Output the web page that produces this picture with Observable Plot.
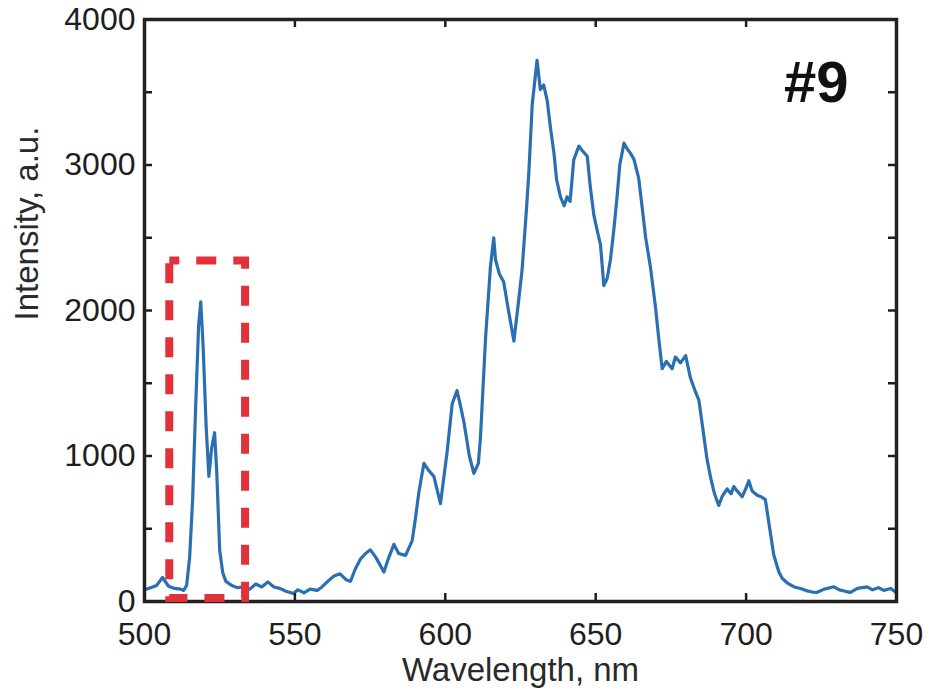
<!DOCTYPE html>
<html><head><meta charset="utf-8">
<script src="https://cdn.jsdelivr.net/npm/d3@7"></script>
<script src="https://cdn.jsdelivr.net/npm/@observablehq/plot@0.6"></script>
<style>body{margin:0;background:#fff}</style>
</head><body><div id="chart"></div>
<script>
const wavelength = [500,502,504,506,508,510,512,513,514,515,516,517,518,518.7,519.5,520.5,521.4,522.3,523.3,524,525,526,527,529,531,533,535,537,539,541,543,545,547,549.5,551,553,555,557.4,559,561,563,565,567,568.5,570,571.8,573.5,575.1,577,579.6,581,582.9,584.5,586.8,589,590,591.2,592.9,594.5,596.2,598.4,600.6,602.3,603.9,605,606.2,608,609.5,611,611.7,613.4,615,616.1,616.7,618,619.4,621,622.8,624,625.5,627,627.8,628.9,630.5,631.6,632.7,633.9,635,636.1,637,638.3,639.5,640.5,641.5,642.7,644.4,645.5,647.2,648.2,649.4,650.5,651.6,652.7,653.8,654.9,656,657.1,658,659.4,660.5,661.6,662.7,664.3,665.5,666.6,668.2,669.9,671,672.1,673.5,675.4,676.5,678.2,679.9,681.5,683,684.3,686,687,688.2,689.5,690.9,692,693.7,695,695.9,697,698.7,700,700.9,702,703.7,705,706.4,707.5,709.2,710.9,712,713.7,716,718.1,720,722,723.6,726,729.2,731,733,734.7,737,740.2,742,744,745.8,748,750];
const intensity = [80,95,110,165,105,90,85,76,110,300,700,1335,1900,2060,1750,1200,860,1050,1160,900,350,200,140,110,95,100,85,120,100,135,100,90,70,55,80,60,85,76,100,140,175,190,150,139,220,292,330,355,300,203,290,393,330,317,419,560,749,950,900,860,673,1028,1359,1450,1350,1232,1000,880,950,1130,1816,2300,2500,2349,2250,2197,2000,1790,2000,2273,2700,2959,3416,3720,3518,3550,3441,3250,3086,2900,2780,2720,2781,2750,3035,3130,3100,3060,2850,2654,2550,2451,2171,2220,2349,2550,2781,3000,3150,3110,3080,3040,2908,2700,2502,2298,2019,1800,1600,1650,1600,1680,1640,1690,1536,1450,1384,1130,980,851,740,660,720,774,740,790,760,720,780,830,760,730,720,700,550,320,203,160,127,100,89,75,65,63,85,101,80,70,63,90,101,80,95,76,90,60];
const xTicks = [500,550,600,650,700,750];
const yTicks = [0,500,1000,1500,2000,2500,3000,3500,4000];
const yLabels = [0,1000,2000,3000,4000];
const boxWavelength = [508.4, 533.6];
const boxIntensity = [20, 2340];
const panelLabel = ["#9"];
const xTitle = ["Wavelength, nm"];
const yTitle = ["Intensity, a.u."];

const data = wavelength.map((w, i) => ({w, v: intensity[i]}));
const box = [{x1: boxWavelength[0], x2: boxWavelength[1], y1: boxIntensity[0], y2: boxIntensity[1]}];
const W = 927, H = 693, mL = 144, mR = 31, mT = 19, mB = 92;
const fw = W - mL - mR, fh = H - mT - mB, tk = 8;
const ink = "#1e1e1e";

const chart = Plot.plot({
  width: W, height: H,
  marginLeft: mL, marginRight: mR, marginTop: mT, marginBottom: mB,
  style: {fontFamily: "'Liberation Sans', Arial, sans-serif", background: "#fff", overflow: "visible"},
  x: {domain: [500, 750]},
  y: {domain: [0, 4000]},
  marks: [
    Plot.line(data, {x: "w", y: "v", stroke: "#2a6fb2", strokeWidth: 3.2}),
    Plot.tickY(yTicks, {y: d => d, stroke: ink, strokeWidth: 2.5, insetRight: fw - tk}),
    Plot.tickY(yTicks, {y: d => d, stroke: ink, strokeWidth: 2.5, insetLeft: fw - tk}),
    Plot.tickX(xTicks, {x: d => d, stroke: ink, strokeWidth: 2.5, insetTop: fh - tk}),
    Plot.tickX(xTicks, {x: d => d, stroke: ink, strokeWidth: 2.5, insetBottom: fh - tk}),
    Plot.frame({stroke: "#222", strokeWidth: 3.5}),
    Plot.rect(box, {x1: "x1", x2: "x2", y1: "y1", y2: "y2", fill: "none", stroke: "#e1323b", strokeWidth: 8, strokeDasharray: "20,17", strokeDashoffset: 10}),
    Plot.axisY(yLabels, {tickSize: 0, tickPadding: 9, fontSize: 32, fill: ink, label: null, tickFormat: d => String(d)}),
    Plot.axisX(xTicks, {tickSize: 0, tickPadding: 20.5, fontSize: 32, fill: ink, label: null, tickFormat: d => String(d)}),
    Plot.text(xTitle, {frameAnchor: "bottom", lineAnchor: "bottom", dy: 79, fontSize: 33, fill: "#2a2a2a"}),
    Plot.text(yTitle, {frameAnchor: "left", rotate: -90, lineAnchor: "middle", dx: -117, dy: 10, fontSize: 33, fill: "#2a2a2a"}),
    Plot.text(panelLabel, {frameAnchor: "top-right", textAnchor: "end", lineAnchor: "bottom", dx: -48, dy: 82, fontSize: 58, fontWeight: "bold", fill: "#111"})
  ]
});
document.getElementById("chart").append(chart);
</script>
</body></html>
